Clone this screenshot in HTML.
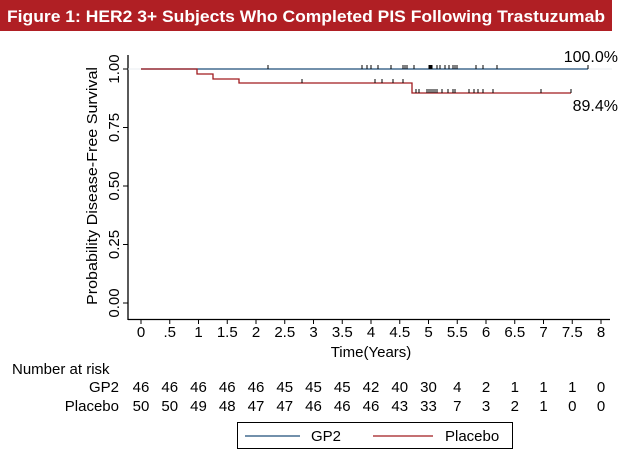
<!DOCTYPE html>
<html><head><style>body{margin:0;background:#fff}svg{display:block;font-family:"Liberation Sans",Arial,sans-serif}</style></head><body>
<svg width="621" height="463" viewBox="0 0 621 463">
<rect x="0" y="0" width="612" height="31" fill="#b01f24"/>
<text x="7" y="22" fill="#fff" font-size="16.5" font-weight="bold" textLength="598" lengthAdjust="spacingAndGlyphs">Figure 1: HER2 3+ Subjects Who Completed PIS Following Trastuzumab</text>
<line x1="128" y1="55" x2="128" y2="320" stroke="#000" stroke-width="1.3"/>
<line x1="128" y1="319.5" x2="610" y2="319.5" stroke="#000" stroke-width="1.3"/>
<line x1="128" y1="69" x2="612" y2="69" stroke="#e8eef2" stroke-width="1"/>
<g stroke="#000" stroke-width="1">
<line x1="123" y1="69" x2="128" y2="69"/><line x1="123" y1="127.5" x2="128" y2="127.5"/><line x1="123" y1="186" x2="128" y2="186"/><line x1="123" y1="244.5" x2="128" y2="244.5"/><line x1="123" y1="303" x2="128" y2="303"/>
</g>
<g font-size="15" text-anchor="middle">
<text transform="translate(119,69) rotate(-90)">1.00</text>
<text transform="translate(119,127.5) rotate(-90)">0.75</text>
<text transform="translate(119,186) rotate(-90)">0.50</text>
<text transform="translate(119,244.5) rotate(-90)">0.25</text>
<text transform="translate(119,303) rotate(-90)">0.00</text>
<text transform="translate(97,186) rotate(-90)" textLength="238" lengthAdjust="spacingAndGlyphs">Probability Disease-Free Survival</text>
</g>
<g stroke="#000" stroke-width="1" id="xt"></g>
<g font-size="15" text-anchor="middle" id="xl"></g>
<text x="371" y="357" font-size="15" text-anchor="middle">Time(Years)</text>
<text x="12" y="374" font-size="15">Number at risk</text>
<text x="119" y="392" font-size="15" text-anchor="end">GP2</text>
<text x="119" y="411" font-size="15" text-anchor="end">Placebo</text>
<g font-size="15" text-anchor="middle" id="r1"></g>
<g font-size="15" text-anchor="middle" id="r2"></g>
<polyline points="141,69 588,69" fill="none" stroke="#1f4e79" stroke-width="1.3"/>
<polyline points="141,69 197,69 197,74 213,74 213,79 239,79 239,83 412,83 412,93 571,93" fill="none" stroke="#a01a1e" stroke-width="1.3"/>
<g stroke="#000" stroke-width="1" id="ct"></g>
<text x="618" y="62" font-size="16" text-anchor="end">100.0%</text>
<text x="618" y="111" font-size="16" text-anchor="end">89.4%</text>
<rect x="237.5" y="422.5" width="275" height="26" fill="#fff" stroke="#000"/>
<line x1="245" y1="436" x2="300" y2="436" stroke="#1f4e79" stroke-width="1.3"/>
<text x="311" y="441" font-size="15">GP2</text>
<line x1="373" y1="436" x2="433" y2="436" stroke="#a01a1e" stroke-width="1.3"/>
<text x="445" y="441" font-size="15">Placebo</text>
</svg>
<script>
var ns="http://www.w3.org/2000/svg";
function el(p,t,a,txt){var e=document.createElementNS(ns,t);for(var k in a)e.setAttribute(k,a[k]);if(txt!==undefined)e.textContent=txt;document.getElementById(p).appendChild(e);}
var labs=["0",".5","1","1.5","2","2.5","3","3.5","4","4.5","5","5.5","6","6.5","7","7.5","8"];
var g=[46,46,46,46,46,45,45,45,42,40,30,4,2,1,1,1,0],p=[50,50,49,48,47,47,46,46,46,43,33,7,3,2,1,0,0];
for(var i=0;i<17;i++){var x=141+i*28.75;
el("xt","line",{x1:x,y1:320,x2:x,y2:324});
el("xl","text",{x:x,y:337},labs[i]);
el("r1","text",{x:x,y:392},g[i]);el("r2","text",{x:x,y:411},p[i]);}
var b=[268,362,367,371,378,391,403,405,407,414,429,430,431,432,437,440,445,449,453,455,457,476,483,497,588];
b.forEach(function(x){el("ct","line",{x1:x,y1:65,x2:x,y2:69});});
[302,375,382,393,403].forEach(function(x){el("ct","line",{x1:x,y1:79,x2:x,y2:83});});
[416,419,427,429,431,433,435,437,442,448,453,455,469,474,478,483,493,541,571].forEach(function(x){el("ct","line",{x1:x,y1:89,x2:x,y2:93});});
</script>
</body></html>
